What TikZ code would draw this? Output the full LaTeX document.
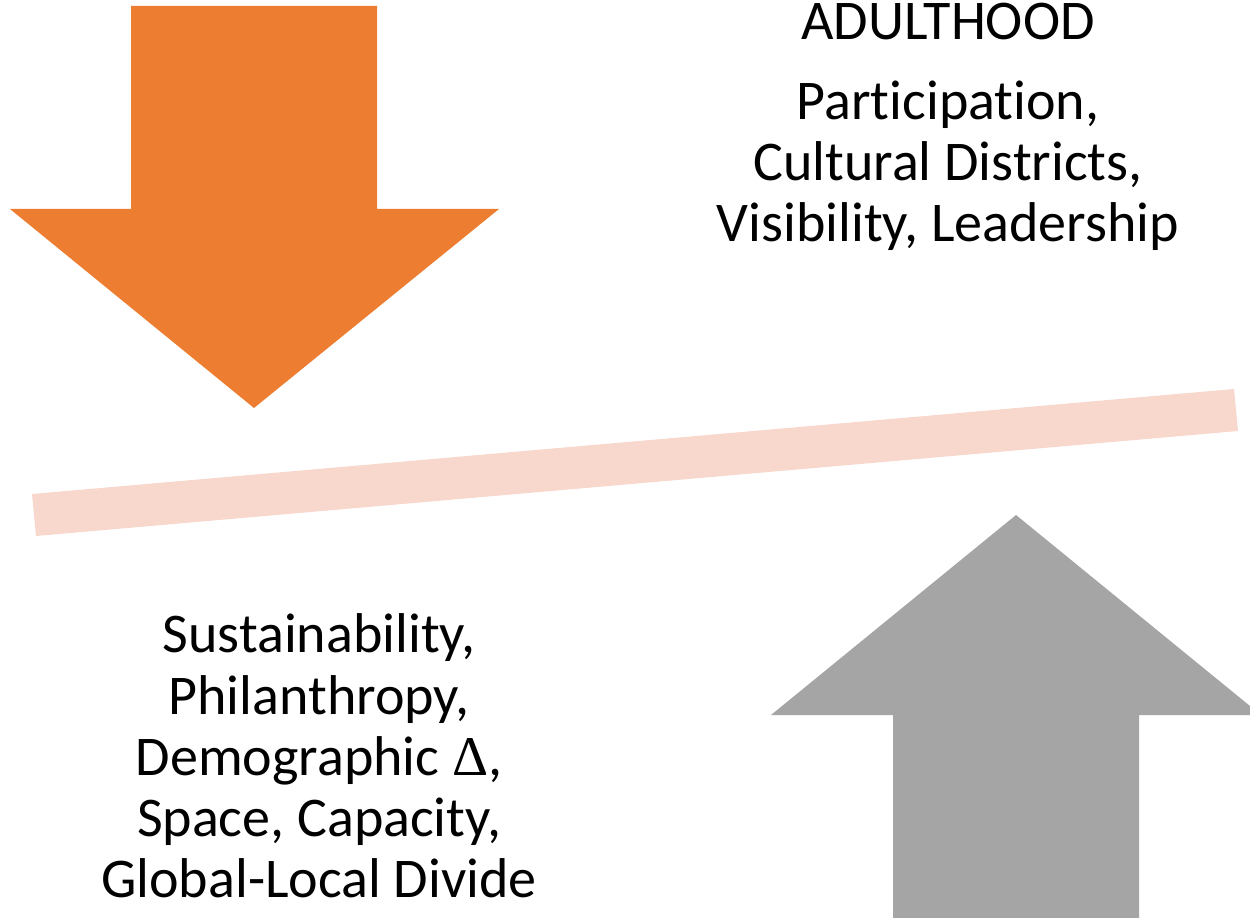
\documentclass[tikz,border=0pt]{standalone}
\usepackage{fontspec}
\setmainfont[Ligatures=NoCommon]{Carlito}
\newfontfamily\deltafont{Liberation Serif}
\usetikzlibrary{positioning}
\definecolor{arroworange}{HTML}{ED7D31}
\definecolor{arrowgray}{HTML}{A5A5A5}
\definecolor{barpink}{HTML}{F8D7CD}

\begin{document}
\begin{tikzpicture}[x=0.02cm,y=-0.02cm,
    caption/.style={align=center,inner sep=0pt,font=\fontsize{31.9}{34.8}\selectfont}]
    \useasboundingbox (0,0) rectangle (1250,918);
    % pressure from above
    \fill[arroworange] (131,6) -- (377,6) -- (377,209) -- (499,209) -- (254,408) -- (10,209) -- (131,209) -- cycle;
    % tilted balance bar
    \fill[barpink] (32,494) -- (1234,389) -- (1238,431) -- (36,536) -- cycle;
    % support from below
    \fill[arrowgray] (893,918) -- (893,715) -- (771,715) -- (1016,515) -- (1261,715) -- (1139,715) -- (1139,918) -- cycle;

    \node[caption] (stage) at (948,22) {ADULTHOOD};
    \node[caption] (gains) at (948,166) {Participation,\\Cultural Districts,\\Visibility, Leadership};
    \node[caption] (strains) at (319,756) {Sustainability,\\Philanthropy,\\Demographic {\deltafont Δ},\\Space, Capacity,\\Global-Local Divide};
\end{tikzpicture}
\end{document}
